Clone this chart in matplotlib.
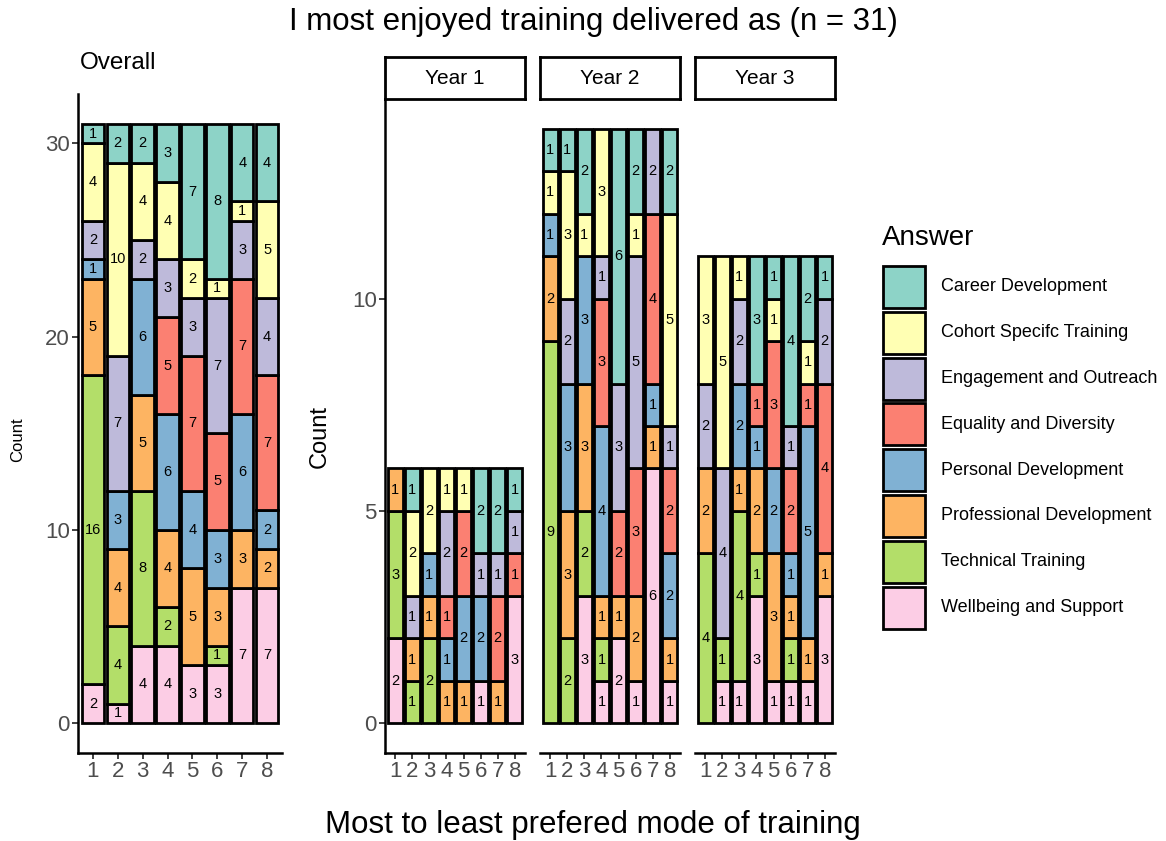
import matplotlib
matplotlib.use('Agg')
import matplotlib.pyplot as plt
from matplotlib.patches import Rectangle

plt.rcParams['font.family'] = ['Liberation Sans', 'DejaVu Sans']

# Answer categories, in legend order (top of stack first)
answers = ['Career Development', 'Cohort Specifc Training', 'Engagement and Outreach',
           'Equality and Diversity', 'Personal Development', 'Professional Development',
           'Technical Training', 'Wellbeing and Support']
colors = ['#8DD3C7', '#FFFFB3', '#BEBADA', '#FB8072', '#80B1D3', '#FDB462', '#B3DE69', '#FCCDE5']
ranks = [1, 2, 3, 4, 5, 6, 7, 8]

# counts per answer (rows, legend order) for rank 1..8 (columns)
overall = [
    [1, 2, 2, 3, 7, 8, 4, 4],
    [4, 10, 4, 4, 2, 1, 1, 5],
    [2, 7, 2, 3, 3, 7, 3, 4],
    [0, 0, 0, 5, 7, 5, 7, 7],
    [1, 3, 6, 6, 4, 3, 6, 2],
    [5, 4, 5, 4, 5, 3, 3, 2],
    [16, 4, 8, 2, 0, 1, 0, 0],
    [2, 1, 4, 4, 3, 3, 7, 7],
]
year1 = [
    [0, 1, 0, 0, 0, 2, 2, 1],
    [0, 2, 2, 1, 1, 0, 0, 0],
    [0, 1, 0, 2, 0, 1, 1, 1],
    [0, 0, 0, 1, 2, 0, 2, 1],
    [0, 0, 1, 1, 2, 2, 0, 0],
    [1, 1, 1, 1, 1, 0, 1, 0],
    [3, 1, 2, 0, 0, 0, 0, 0],
    [2, 0, 0, 0, 0, 1, 0, 3],
]
year2 = [
    [1, 1, 2, 0, 6, 2, 0, 2],
    [1, 3, 1, 3, 0, 1, 0, 5],
    [0, 2, 0, 1, 3, 5, 2, 1],
    [0, 0, 0, 3, 2, 3, 4, 2],
    [1, 3, 3, 4, 0, 0, 1, 2],
    [2, 3, 3, 1, 1, 2, 1, 1],
    [9, 2, 2, 1, 0, 0, 0, 0],
    [0, 0, 3, 1, 2, 1, 6, 1],
]
year3 = [
    [0, 0, 0, 3, 1, 4, 2, 1],
    [3, 5, 1, 0, 1, 0, 1, 0],
    [2, 4, 2, 0, 0, 1, 0, 2],
    [0, 0, 0, 1, 3, 2, 1, 4],
    [0, 0, 2, 1, 2, 1, 5, 0],
    [2, 0, 1, 2, 3, 1, 1, 1],
    [4, 1, 4, 1, 0, 1, 0, 0],
    [0, 1, 1, 3, 1, 1, 1, 3],
]
years = ['Year 1', 'Year 2', 'Year 3']

W, H = 1166, 841
fig = plt.figure(figsize=(W / 100, H / 100), dpi=100)


def px_axes(x0, y0, x1, y1):
    return fig.add_axes([x0 / W, 1 - y1 / H, (x1 - x0) / W, (y1 - y0) / H])


def stacked(ax, table, fs):
    bottoms = [0] * len(ranks)
    # stack from the last category (Wellbeing) at the bottom
    for i in range(len(answers) - 1, -1, -1):
        vals = table[i]
        xs = [r for r, v in zip(ranks, vals) if v > 0]
        hs = [v for v in vals if v > 0]
        bs = [b for b, v in zip(bottoms, vals) if v > 0]
        ax.bar(xs, hs, bottom=bs, width=0.9, color=colors[i], edgecolor='black', linewidth=2.0)
        for x, h, b in zip(xs, hs, bs):
            ax.text(x, b + h / 2, str(h), ha='center', va='center', fontsize=fs, color='black')
        bottoms = [b + v for b, v in zip(bottoms, vals)]


def style(ax, show_y):
    for s in ['top', 'right']:
        ax.spines[s].set_visible(False)
    ax.spines['bottom'].set_linewidth(1.8)
    ax.spines['left'].set_linewidth(1.8)
    ax.set_xlim(0.4, 8.6)
    ax.set_xticks(ranks)
    ax.tick_params(length=4, width=1.3, color='#333333', labelcolor='#4D4D4D', labelsize=16, pad=2)
    if not show_y:
        ax.spines['left'].set_visible(False)
        ax.set_yticks([])
    ax.patch.set_alpha(0)


# Overall panel
ax0 = px_axes(78, 94, 282, 753)
stacked(ax0, overall, 10.5)
style(ax0, True)
ax0.set_ylim(-1.55, 32.55)
ax0.set_yticks([0, 10, 20, 30])
ax0.text(0.01, 1.03, 'Overall', transform=ax0.transAxes, fontsize=17.5, va='bottom', ha='left')
fig.text(18 / W, 1 - 440 / H, 'Count', rotation=90, fontsize=12, ha='center', va='center')

# Year facets
panels = [(385, 525), (540, 680), (695, 835)]
for k, (tab, (x0, x1)) in enumerate(zip([year1, year2, year3], panels)):
    ax = px_axes(x0, 99, x1, 753)
    stacked(ax, tab, 10.5)
    style(ax, k == 0)
    ax.set_ylim(-0.7, 14.7)
    if k == 0:
        ax.set_yticks([0, 5, 10])
    sx = px_axes(x0, 57, x1, 99)
    sx.set_xticks([])
    sx.set_yticks([])
    for s in sx.spines.values():
        s.set_linewidth(2.0)
    sx.text(0.5, 0.48, years[k], ha='center', va='center', fontsize=15, transform=sx.transAxes)

fig.text(320 / W, 1 - 437 / H, 'Count', rotation=90, fontsize=17, ha='center', va='center')
fig.text(593 / W, 1 - 22 / H, 'I most enjoyed training delivered as (n = 31)', fontsize=22.5,
         ha='center', va='center')
fig.text(593 / W, 1 - 825 / H, 'Most to least prefered mode of training', fontsize=22.5,
         ha='center', va='center')

# Legend
lg = px_axes(870, 220, 1166, 640)
lg.set_xlim(870, 1166)
lg.set_ylim(640, 220)
lg.axis('off')
lg.text(882, 238, 'Answer', fontsize=20, ha='left', va='center')
for i, (name, c) in enumerate(zip(answers, colors)):
    top = 266 + i * 45.8
    lg.add_patch(Rectangle((883, top), 42, 42, facecolor=c, edgecolor='black', linewidth=2.0))
    lg.text(941, top + 21, name, fontsize=13, ha='left', va='center')

fig.savefig('out.png', dpi=100)
